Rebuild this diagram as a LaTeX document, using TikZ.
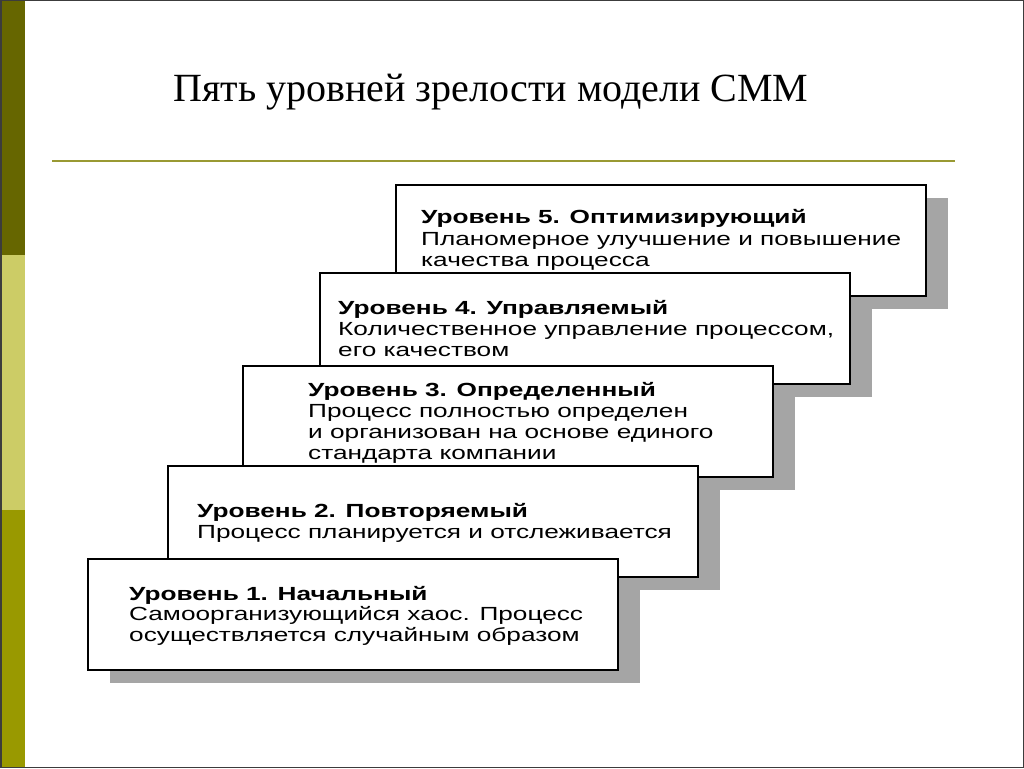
\documentclass[tikz,border=0pt]{standalone}
\usepackage{fontspec}
\setmainfont{Liberation Serif}
\newfontfamily\boxfont[FakeStretch=1.38]{Liberation Sans}
\definecolor{olivedark}{RGB}{102,102,0}
\definecolor{olivelight}{RGB}{204,204,102}
\definecolor{olivemid}{RGB}{153,153,0}
\definecolor{ruleolive}{RGB}{153,153,51}
\definecolor{shadowgray}{RGB}{165,165,165}
\definecolor{framegray}{RGB}{60,60,60}
\begin{document}
\begin{tikzpicture}[x=1pt,y=-1pt,
  titletext/.style={font=\fontsize{40}{46}\selectfont, anchor=base, inner sep=0},
  rulestyle/.style={draw=ruleolive, line width=2pt},
  lvlbox/.style={draw=black, fill=white, line width=2pt, anchor=north west,
    minimum width=530pt, minimum height=111pt, inner sep=0, outer sep=0},
  lvlshadow/.style={fill=shadowgray, anchor=north west,
    minimum width=530pt, minimum height=111pt, inner sep=0, outer sep=0},
  lvlhead/.style={font=\boxfont\bfseries\fontsize{19}{21}\selectfont, anchor=base west, inner sep=0},
  lvltext/.style={font=\boxfont\fontsize{19}{21}\selectfont, anchor=base west, inner sep=0}]
\useasboundingbox (0,0) rectangle (1024,768);
\fill[white] (0,0) rectangle (1024,768);
% left bar
\fill[olivedark] (0,0) rectangle (25,255);
\fill[olivelight] (0,255) rectangle (25,510);
\fill[olivemid] (0,510) rectangle (25,768);
\draw[framegray, line width=1.5pt] (0.75,0.75) rectangle (1023.25,767.25);
% title
\node[titletext] (title) at (491,101) {Пять уровней зрелости модели СММ};
\coordinate (ruleA) at (52,161);
\coordinate (ruleB) at (955,161);
\draw[rulestyle] (ruleA) -- (ruleB);
% shadows
\node[lvlshadow] (s5) at (418,198) {};
\node[lvlshadow] (s4) at (342,286) {};
\node[lvlshadow] (s3) at (265,379) {};
\node[lvlshadow] (s2) at (190,479) {};
\node[lvlshadow] (s1) at (110,572) {};
% boxes
\node[lvlbox] (b5) at (396,185) {};
\node[lvlbox] (b4) at (320,273) {};
\node[lvlbox] (b3) at (243,366) {};
\node[lvlbox] (b2) at (168,466) {};
\node[lvlbox] (b1) at (88,559) {};
% texts
\node[lvlhead] (t5a) at (421,223.5) {Уровень 5. Оптимизирующий};
\node[lvltext] (t5b) at (421,245) {Планомерное улучшение и повышение};
\node[lvltext] (t5c) at (421,266) {качества процесса};
\node[lvlhead] (t4a) at (338,314) {Уровень 4. Управляемый};
\node[lvltext] (t4b) at (338,335.5) {Количественное управление процессом,};
\node[lvltext] (t4c) at (338,356.5) {его качеством};
\node[lvlhead] (t3a) at (308,396) {Уровень 3. Определенный};
\node[lvltext] (t3b) at (308,417) {Процесс полностью определен};
\node[lvltext] (t3c) at (308,438.5) {и организован на основе единого};
\node[lvltext] (t3d) at (308,459.5) {стандарта компании};
\node[lvlhead] (t2a) at (197,517) {Уровень 2. Повторяемый};
\node[lvltext] (t2b) at (197,538) {Процесс планируется и отслеживается};
\node[lvlhead] (t1a) at (129,600) {Уровень 1. Начальный};
\node[lvltext] (t1b) at (129,620.5) {Самоорганизующийся хаос. Процесс};
\node[lvltext] (t1c) at (129,641.5) {осуществляется случайным образом};
\end{tikzpicture}
\end{document}
